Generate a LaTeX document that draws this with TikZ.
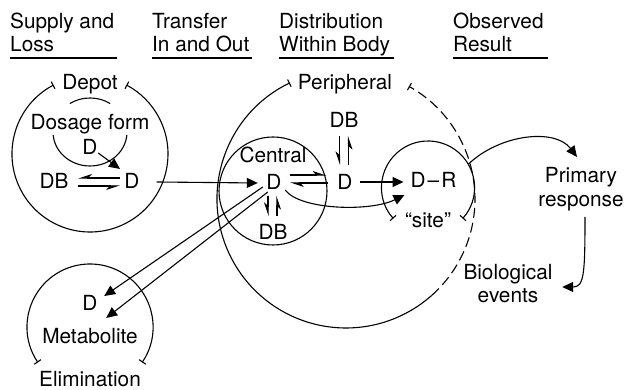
\documentclass[tikz,border=0pt]{standalone}
\usepackage{fontspec}
\setmainfont{TeX Gyre Heros}
\usetikzlibrary{arrows.meta}
\tikzset{
  t/.style={inner sep=0pt, anchor=base},
  h/.style={inner sep=0pt, anchor=base west},
  ln/.style={line width=1.1pt},
  uline/.style={line width=2.4pt},
  arr/.style={ln, -{Triangle[length=11pt,width=10pt]}},
  hp/.style={ln, -{Stealth[harpoon,length=12pt,width=8pt,inset=3.5pt]}},
  hps/.style={ln, -{Stealth[harpoon,swap,length=12pt,width=8pt,inset=3.5pt]}},
  barb/.style={ln, {Bar[width=8pt]}-{Bar[width=8pt]}},
}
\begin{document}
\begin{tikzpicture}[x=1pt,y=1pt,font=\fontsize{20.8}{22}\selectfont]
\useasboundingbox (0,0) rectangle (627,390);

% headings
\node[h] (h1a) at (10,361) {Supply and};
\node[h] (h1b) at (10,338.5) {Loss};
\node[h] (h2a) at (152,361) {Transfer};
\node[h] (h2b) at (152,338.5) {In and Out};
\node[h] (h3a) at (279,361) {Distribution};
\node[h] (h3b) at (279,338.5) {Within Body};
\node[h] (h4a) at (453,361) {Observed};
\node[h] (h4b) at (453,338.5) {Result};
\draw[uline] ([yshift=-6.5pt]h1b.base west) -- ++(107,0);
\draw[uline] ([yshift=-6.5pt]h2b.base west) -- ++(100,0);
\draw[uline] ([yshift=-6.5pt]h3b.base west) -- ++(115,0);
\draw[uline] ([yshift=-6.5pt]h4b.base west) -- ++(95,0);

% labels
\node[t] (depot) at (90,300) {Depot};
\node[t] (dosage) at (90,260) {Dosage form};
\node[t] (dD) at (90,235) {D};
\node[t] (dDB) at (54,201) {DB};
\node[t] (dDD) at (132,201) {D};
\node[t] (central) at (273,227) {Central};
\node[t] (cD) at (274,200) {D};
\node[t] (cDB) at (273,150) {DB};
\node[t] (periph) at (345,300) {Peripheral};
\node[t] (pDB) at (344,262) {DB};
\node[t] (pD) at (345,200) {D};
\node[t] (dr) at (433.5,202) {D\kern2pt–\kern2pt R};
\node[t] (site) at (428,162) {“site”};
\node[t] (prim) at (581,207) {Primary};
\node[t] (resp) at (581,183) {response};
\node[t] (bio) at (508,110) {Biological};
\node[t] (events) at (508,87) {events};
\node[t] (mD) at (90,79) {D};
\node[t] (metab) at (90,46) {Metabolite};
\node[t] (elim) at (90,3) {Elimination};

% compartments
\coordinate (depc) at (90,236);
\coordinate (dfc) at (90,258);
\coordinate (cc) at (273,199);
\coordinate (pc) at (346,191);
\coordinate (sc) at (428,202.5);
\coordinate (mc) at (90,63);
\draw[barb] ([shift={(117.8:78pt)}]depc) arc[start angle=117.8, end angle=422.2, radius=78pt];
\draw[ln] ([shift={(123:37pt and 34pt)}]dfc) arc[start angle=123, end angle=57, x radius=37pt, y radius=34pt];
\draw[ln] ([shift={(185:37pt and 34pt)}]dfc) arc[start angle=185, end angle=355, x radius=37pt, y radius=34pt];
\draw[ln] (cc) circle[radius=54pt];
\draw[ln, {Bar[width=8pt]}-] ([shift={(115.8:129pt)}]pc) arc[start angle=115.8, end angle=311.6, radius=129pt];
\draw[ln, dash pattern=on 10pt off 5pt, -{Bar[width=8pt]}] ([shift={(311.6:129pt)}]pc) arc[start angle=311.6, end angle=420.8, radius=129pt];
\draw[barb] ([shift={(318.2:46.5pt)}]sc) arc[start angle=318.2, end angle=581.8, radius=46.5pt];
\draw[barb] ([shift={(325.8:63pt)}]mc) arc[start angle=325.8, end angle=574.2, radius=63pt];

% depot
\coordinate (dftip) at (120,221);
\draw[arr] ([shift={(0.5pt,2pt)}]dD.base east) -- (dftip);
\draw[hps] ([shift={(-4.5pt,11pt)}]dDD.base west) -- ([shift={(9.6pt,11pt)}]dDB.base east);
\draw[hps] ([shift={(9.6pt,3pt)}]dDB.base east) -- ([shift={(-4.5pt,3pt)}]dDD.base west);
\draw[arr] ([shift={(17pt,7pt)}]dDD.base east) -- ([shift={(-8.5pt,7pt)}]cD.base west);

% central / peripheral
\draw[hp] ([shift={(8.5pt,15pt)}]cD.base east) -- ([shift={(-11pt,15pt)}]pD.base west);
\draw[hp] ([shift={(-9pt,7pt)}]pD.base west) -- ([shift={(8.5pt,7pt)}]cD.base east);
\draw[hps] ([shift={(-6pt,-6pt)}]cD.base) -- ([shift={(-5pt,24pt)}]cDB.base);
\draw[hps] ([shift={(4pt,24pt)}]cDB.base) -- ([shift={(3pt,-6pt)}]cD.base);
\draw[hps] ([shift={(-4.5pt,-8pt)}]pDB.base) -- ([shift={(-5.5pt,25pt)}]pD.base);
\draw[hps] ([shift={(3.5pt,25pt)}]pD.base) -- ([shift={(4.5pt,-8pt)}]pDB.base);
\draw[arr] ([shift={(7.5pt,8pt)}]pD.base east) -- ([shift={(-7pt,6pt)}]dr.base west);
\draw[arr] ([shift={(3.5pt,0pt)}]cD.base east) .. controls (300,180) and (370,178) .. ([shift={(-6pt,-7pt)}]dr.base west);

% to metabolite
\draw[arr] ([shift={(-3.5pt,3pt)}]cD.base west) -- ([shift={(6.5pt,15pt)}]mD.base east);
\draw[arr] ([shift={(1.5pt,-2pt)}]cD.base west) -- ([shift={(8.5pt,-7pt)}]mD.base east);

% observed result
\coordinate (sitept) at ([shift={(30:46.5pt)}]sc);
\draw[arr] (sitept) .. controls (500,256) and (555,262) .. ([shift={(-4pt,26pt)}]prim.base);
\draw[arr] ([shift={(4pt,-10pt)}]resp.base) .. controls (585,115) and (584,103) .. ([shift={(9.5pt,-7pt)}]bio.base east);
\end{tikzpicture}
\end{document}
